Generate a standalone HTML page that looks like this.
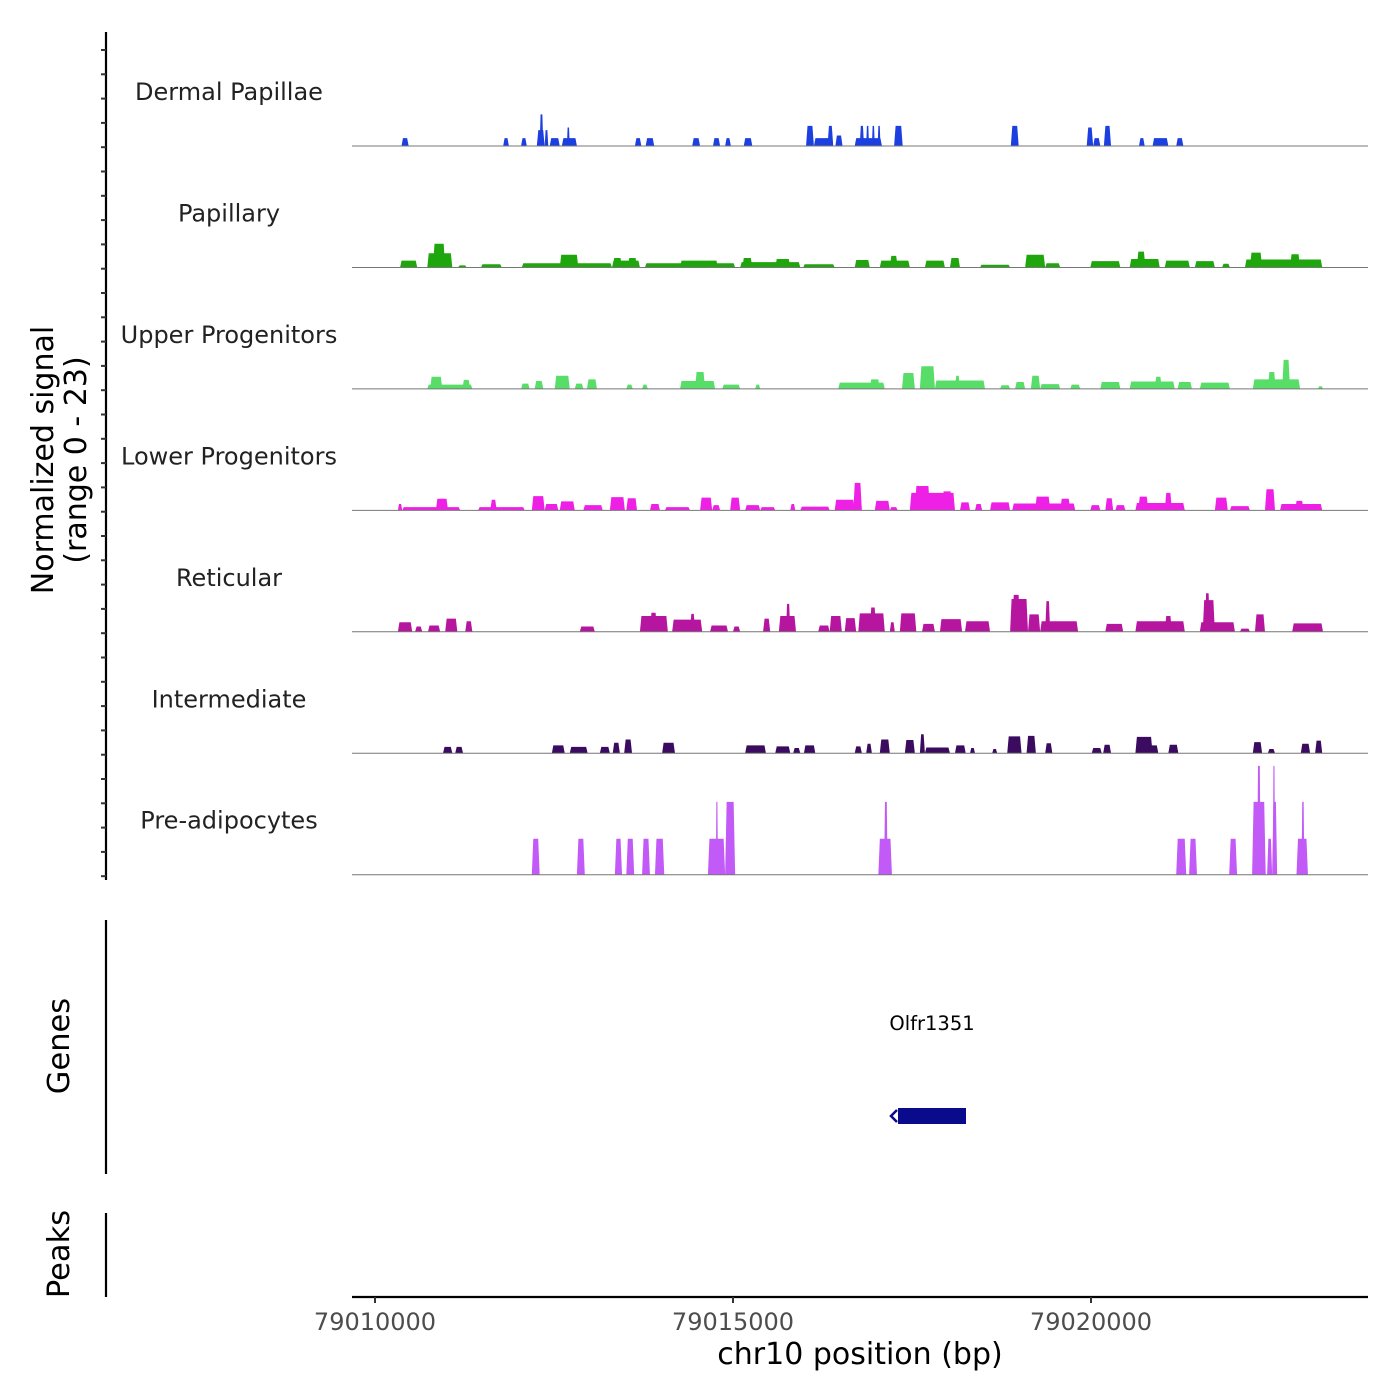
<!DOCTYPE html>
<html><head><meta charset="utf-8"><style>
html,body{margin:0;padding:0;background:#fff;}
svg{display:block;font-family:"DejaVu Sans","Liberation Sans",sans-serif;}
</style></head><body>
<svg id="chart" width="1400" height="1400" viewBox="0 0 1400 1400" xmlns="http://www.w3.org/2000/svg">
<rect width="1400" height="1400" fill="#fff"/>
<g id="tracks"></g>
<g id="leftaxis"></g>
<text transform="translate(53,460) rotate(-90)" text-anchor="middle" font-size="30" fill="#000">Normalized signal</text>
<text transform="translate(86,460) rotate(-90)" text-anchor="middle" font-size="30" fill="#000">(range 0 - 23)</text>
<line x1="106" y1="920" x2="106" y2="1174" stroke="#000" stroke-width="2.2"/>
<text transform="translate(69,1046) rotate(-90)" text-anchor="middle" font-size="30.5" fill="#000">Genes</text>
<text x="932" y="1030" text-anchor="middle" font-size="19.5" fill="#000">Olfr1351</text>
<rect x="898" y="1108" width="68" height="16" fill="#0a0a8c"/>
<polyline points="897,1110 891,1116 897,1122" fill="none" stroke="#0a0a8c" stroke-width="2.5"/>
<line x1="106" y1="1213" x2="106" y2="1297" stroke="#000" stroke-width="2.2"/>
<text transform="translate(69,1254) rotate(-90)" text-anchor="middle" font-size="30.5" fill="#000">Peaks</text>
<line x1="352" y1="1297" x2="1368" y2="1297" stroke="#000" stroke-width="2.2"/>
<g id="xaxis"></g>
<text x="860" y="1364" text-anchor="middle" font-size="30" fill="#000">chr10 position (bp)</text>
</svg>
<script>
const origin = 79010000;
const xTicks = [79010000, 79015000, 79020000];
const trackNames = ["Dermal Papillae","Papillary","Upper Progenitors","Lower Progenitors","Reticular","Intermediate","Pre-adipocytes"];
const trackColors = ["#1c3fe0","#1ea60c","#58dd68","#ee20e6","#b6169f","#3a0b5e","#c25af8"];
const dermalPapillae = [[0.37,0.47,1.5],[1.79,1.87,1.5],[2.04,2.12,1.5],[2.26,2.37,3.0],[2.30,2.35,6.0],[2.37,2.42,3.0],[2.44,2.58,1.5],[2.61,2.82,1.5],[2.68,2.72,3.5],[3.63,3.72,1.5],[3.78,3.90,1.5],[4.43,4.54,1.5],[4.72,4.82,1.5],[4.89,4.97,1.5],[5.15,5.27,1.5],[6.02,6.13,3.8],[6.13,6.35,1.5],[6.32,6.40,3.8],[6.43,6.53,2.0],[6.70,7.08,1.5],[6.77,6.83,3.8],[6.86,6.90,3.8],[6.94,6.98,3.8],[7.02,7.06,3.8],[7.25,7.37,3.8],[8.88,8.99,3.8],[9.94,10.03,3.5],[10.03,10.13,1.5],[10.18,10.28,3.8],[10.67,10.75,1.5],[10.86,11.08,1.5],[11.19,11.29,1.5]];
const papillary = [[0.35,0.59,1.3],[0.73,1.08,2.7],[0.81,0.98,4.5],[1.16,1.28,0.4],[1.48,1.77,0.6],[2.05,3.31,0.8],[2.58,2.84,2.4],[3.31,3.70,1.3],[3.32,3.45,1.8],[3.53,3.66,1.8],[3.77,5.03,0.8],[4.26,4.79,1.3],[5.10,5.94,1.0],[5.13,5.27,1.8],[5.59,5.80,1.6],[5.98,6.42,0.6],[6.70,6.91,1.4],[7.05,7.47,1.3],[7.19,7.30,2.2],[7.68,7.96,1.3],[8.03,8.17,1.8],[8.45,8.87,0.5],[9.08,9.36,2.4],[9.36,9.57,0.8],[9.99,10.41,1.2],[10.54,10.96,1.6],[10.64,10.76,3.0],[11.03,11.38,1.3],[11.45,11.73,1.2],[11.83,11.94,0.7],[12.15,13.23,1.5],[12.22,12.39,2.8],[12.78,12.92,2.5]];
const upperProgenitors = [[0.73,1.36,0.8],[0.77,0.94,2.3],[1.22,1.33,1.7],[2.04,2.16,1.0],[2.23,2.35,1.5],[2.51,2.72,2.5],[2.79,2.91,1.0],[2.96,3.10,1.8],[3.51,3.60,0.8],[3.73,3.81,0.8],[4.26,4.75,1.5],[4.47,4.61,3.2],[4.85,5.10,0.8],[5.31,5.38,0.8],[6.47,7.12,1.2],[6.91,7.05,1.8],[7.36,7.54,3.0],[7.61,7.82,4.3],[7.82,8.52,1.6],[8.10,8.17,2.5],[8.73,8.87,0.7],[8.94,9.08,1.3],[9.16,9.29,2.5],[9.29,9.57,0.9],[9.71,9.85,0.8],[10.13,10.41,1.3],[10.54,11.17,1.4],[10.89,10.99,2.3],[11.21,11.41,1.3],[11.52,11.94,1.2],[12.26,12.92,1.8],[12.47,12.58,3.2],[12.67,12.78,5.5],[13.17,13.24,0.5]];
const lowerProgenitors = [[0.32,0.38,1.2],[0.38,1.19,0.6],[0.85,1.02,2.2],[1.44,2.09,0.6],[1.61,1.70,2.0],[2.19,2.37,2.7],[2.37,2.56,1.2],[2.58,2.79,1.7],[2.91,3.18,1.0],[3.28,3.49,2.5],[3.51,3.66,2.3],[3.84,3.98,1.2],[4.05,4.40,0.6],[4.54,4.71,2.4],[4.71,4.82,1.0],[4.96,5.10,2.4],[5.17,5.38,1.0],[5.38,5.59,0.6],[5.80,5.87,1.2],[5.94,6.35,0.7],[6.42,6.70,2.0],[6.68,6.80,5.2],[6.98,7.19,1.8],[7.19,7.30,0.6],[7.47,8.10,3.3],[7.54,7.75,4.6],[7.92,8.06,3.6],[8.17,8.31,1.5],[8.38,8.48,1.2],[8.59,8.87,1.5],[8.90,9.78,1.3],[9.22,9.43,2.6],[9.57,9.71,2.2],[9.99,10.13,1.0],[10.20,10.31,2.3],[10.34,10.48,1.0],[10.62,11.31,1.4],[10.66,10.80,2.6],[11.03,11.13,3.3],[11.73,11.91,2.4],[11.94,12.22,0.8],[12.43,12.57,4.0],[12.64,13.23,1.2],[12.85,12.97,1.8]];
const reticular = [[0.32,0.52,1.8],[0.56,0.66,1.0],[0.74,0.91,1.2],[0.98,1.15,2.5],[1.26,1.36,2.0],[2.86,3.07,1.0],[3.70,4.09,3.0],[3.84,3.94,3.6],[4.15,4.57,2.3],[4.40,4.47,3.4],[4.68,4.93,1.2],[5.00,5.10,1.0],[5.42,5.52,2.5],[5.64,5.88,3.0],[5.74,5.80,5.3],[6.19,6.35,1.2],[6.35,6.52,3.0],[6.56,6.72,2.6],[6.75,7.12,3.5],[6.91,7.00,4.6],[7.19,7.26,1.8],[7.33,7.56,3.5],[7.64,7.82,1.5],[7.89,8.20,2.4],[8.24,8.59,2.0],[8.87,9.12,6.2],[8.90,9.01,7.0],[9.12,9.29,3.3],[9.29,9.82,2.0],[9.36,9.43,5.8],[10.20,10.45,1.5],[10.62,11.31,2.0],[11.03,11.13,3.0],[11.52,12.01,1.8],[11.56,11.73,6.0],[11.59,11.66,7.3],[12.08,12.22,0.6],[12.29,12.43,3.3],[12.81,13.24,1.6]];
const intermediate = [[0.95,1.08,1.2],[1.12,1.23,1.2],[2.47,2.65,1.5],[2.72,2.97,1.2],[3.14,3.28,1.2],[3.32,3.42,2.0],[3.48,3.59,2.6],[4.01,4.19,2.0],[5.17,5.46,1.5],[5.59,5.80,1.3],[5.84,5.94,1.0],[5.99,6.15,1.5],[6.70,6.80,1.3],[6.86,6.94,1.8],[7.05,7.19,2.6],[7.40,7.54,2.5],[7.61,7.68,3.6],[7.68,8.03,1.1],[8.10,8.25,1.5],[8.31,8.38,1.0],[8.62,8.69,0.8],[8.83,9.03,3.2],[9.10,9.23,3.3],[9.36,9.46,1.9],[10.01,10.15,1.0],[10.17,10.28,1.6],[10.62,10.86,3.1],[10.80,10.94,1.5],[11.08,11.22,1.6],[12.26,12.39,2.1],[12.47,12.57,0.8],[12.93,13.06,1.8],[13.13,13.23,2.4]];
const preAdipocytes = [[2.19,2.30,6.8],[2.82,2.93,6.8],[3.35,3.45,6.8],[3.51,3.62,6.8],[3.73,3.84,6.8],[3.91,4.04,6.8],[4.65,4.89,6.8],[4.76,4.79,13.8],[4.89,5.03,13.8],[7.03,7.22,6.8],[7.11,7.16,13.8],[11.19,11.33,6.8],[11.37,11.48,6.8],[11.93,12.04,6.8],[12.25,12.44,13.8],[12.32,12.37,20.6],[12.46,12.53,6.8],[12.53,12.60,13.8],[12.54,12.57,20.6],[12.87,13.03,6.8],[12.94,12.98,13.8]];
const trackData = [dermalPapillae, papillary, upperProgenitors, lowerProgenitors, reticular, intermediate, preAdipocytes];
const yMax = 23;

const NS = "http://www.w3.org/2000/svg";
const px0 = 375, pxPerKb = 71.6;
function xScale(bp){ return px0 + (bp - origin) / 1000 * pxPerKb; }
function xKb(kb){ return px0 + kb * pxPerKb; }
const trackH = 121.45, firstBase = 146;
function baseY(i){ return firstBase + i * trackH; }
function yScale(v){ return v / yMax * trackH; }

const tracks = document.getElementById('tracks');
trackNames.forEach((name, i) => {
  const g = document.createElementNS(NS, 'g');
  
  
  const by = baseY(i);
  const lab = document.createElementNS(NS, 'text');
  
  
  lab.setAttribute('x', 229); lab.setAttribute('y', by - 46);
  lab.setAttribute('text-anchor', 'middle'); lab.setAttribute('font-size', '24'); lab.setAttribute('fill', '#222');
  lab.textContent = name;
  g.appendChild(lab);
  trackData[i].forEach(p => {
    const x1 = xKb(p[0]), x2 = xKb(p[1]), h = yScale(p[2]);
    const s = Math.min(1.5, (x2 - x1) / 4);
    const poly = document.createElementNS(NS, 'polygon');
    
    
    poly.setAttribute('points', `${x1},${by} ${x1+s},${by-h} ${x2-s},${by-h} ${x2},${by}`);
    poly.setAttribute('fill', trackColors[i]);
    g.appendChild(poly);
  });
  const bl = document.createElementNS(NS, 'line');
  
  
  bl.setAttribute('x1', 352); bl.setAttribute('x2', 1368);
  bl.setAttribute('y1', by); bl.setAttribute('y2', by);
  bl.setAttribute('stroke', '#777'); bl.setAttribute('stroke-width', '1');
  g.appendChild(bl);
  tracks.appendChild(g);
});

const la = document.getElementById('leftaxis');
const ax = document.createElementNS(NS, 'line');


ax.setAttribute('x1', 106); ax.setAttribute('x2', 106); ax.setAttribute('y1', 32); ax.setAttribute('y2', 880);
ax.setAttribute('stroke', '#000'); ax.setAttribute('stroke-width', '2.2');
la.appendChild(ax);
for (let y = 50; y <= 880; y += 24.3) {
  const t = document.createElementNS(NS, 'line');
  
  
  t.setAttribute('x1', 101); t.setAttribute('x2', 106); t.setAttribute('y1', y); t.setAttribute('y2', y);
  t.setAttribute('stroke', '#333'); t.setAttribute('stroke-width', '2');
  la.appendChild(t);
}

const xa = document.getElementById('xaxis');
xTicks.forEach(v => {
  const x = xScale(v);
  const t = document.createElementNS(NS, 'line');
  
  
  t.setAttribute('x1', x); t.setAttribute('x2', x); t.setAttribute('y1', 1297); t.setAttribute('y2', 1303);
  t.setAttribute('stroke', '#333'); t.setAttribute('stroke-width', '2');
  xa.appendChild(t);
  const l = document.createElementNS(NS, 'text');
  
  
  l.setAttribute('x', x); l.setAttribute('y', 1330);
  l.setAttribute('text-anchor', 'middle'); l.setAttribute('font-size', '24'); l.setAttribute('fill', '#4d4d4d');
  l.textContent = v;
  xa.appendChild(l);
});
</script>
</body></html>
